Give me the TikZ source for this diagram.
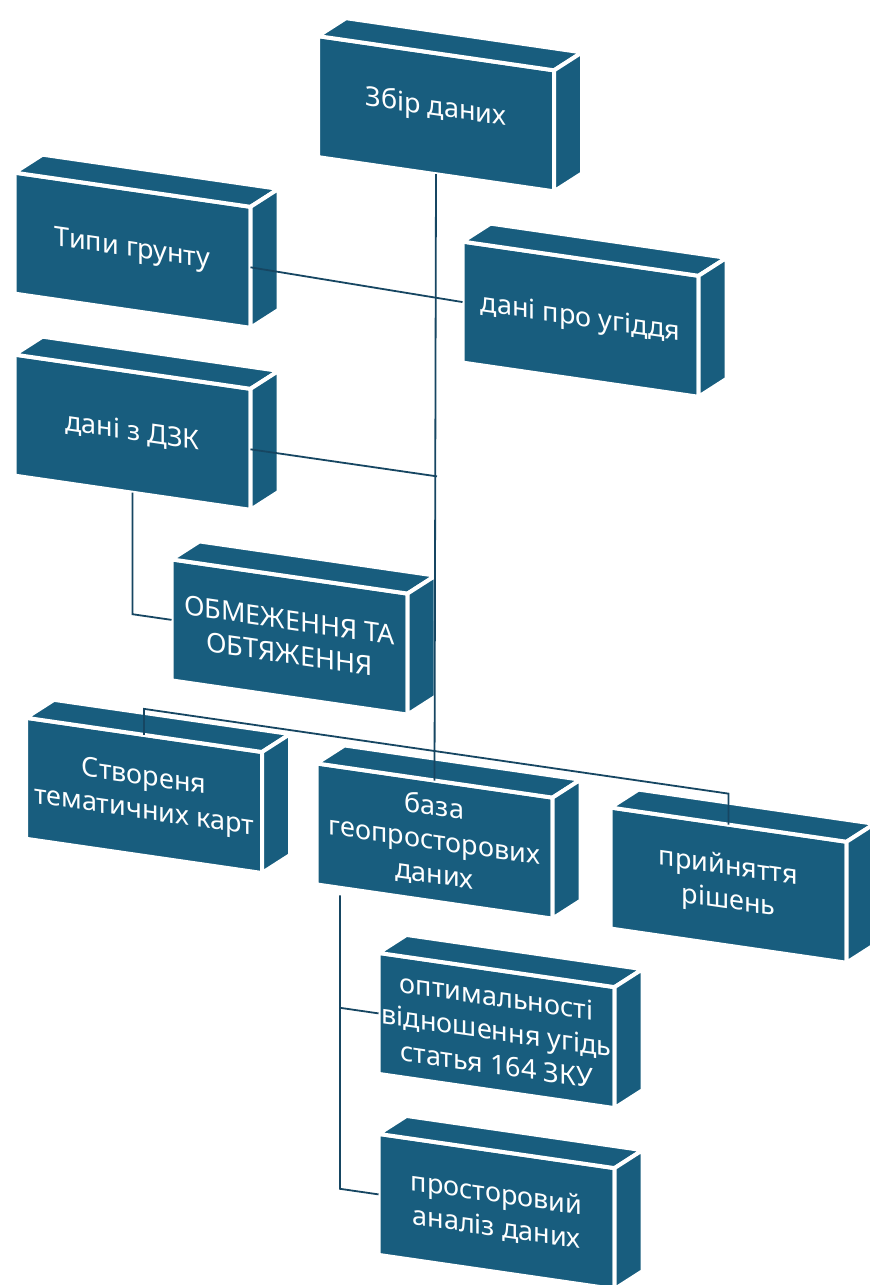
\documentclass[tikz,border=0pt]{standalone}
\usepackage{fontspec}
\setmainfont{Noto Sans}
\definecolor{boxblue}{RGB}{24,93,126}
\definecolor{linkblue}{RGB}{22,70,98}
\tikzset{
  face/.style={fill=boxblue, draw=white, line width=4pt, line join=round},
  front/.style={face, rectangle, minimum width=236pt, minimum height=121pt,
    inner sep=0pt, outer sep=0pt, text=white, align=center,
    font=\fontsize{27}{34}\selectfont, transform shape},
  link/.style={draw=linkblue, line width=1.8pt},
}
\newcommand{\cube}[4]{%
  \node[front] (#1) at (#2,#3) {#4};
  \path[face] (#1.north west) -- ++(28,22) -- ++(236,0) -- (#1.north east) -- cycle;
  \path[face] (#1.north east) -- ++(28,22) -- ++(0,-121) -- (#1.south east) -- cycle;
}
\begin{document}
\begin{tikzpicture}
\useasboundingbox[fill=white] (0,0) rectangle (870pt,-1285pt);
\begin{scope}[yslant=-0.145, x=1pt, y=1pt]
  \cube{b1}{436}{-50.5}{\raisebox{17pt}{Збір даних}}
  \cube{b2}{132.5}{-231}{Типи грунту}
  \cube{b3}{580.5}{-235}{дані про угіддя}
  \cube{b4}{132.5}{-413}{дані з ДЗК}
  \cube{b5}{289.5}{-595}{ОБМЕЖЕННЯ ТА\\ОБТЯЖЕННЯ}
  \cube{b6}{144}{-774.5}{Створеня\\тематичних карт}
  \cube{b7}{434.5}{-778}{база\\геопросторових\\даних}
  \cube{b8}{728.5}{-779.5}{прийняття\\рішень}
  \cube{b9}{496.5}{-958.5}{оптимальності\\відношення угідь\\статья 164 ЗКУ}
  \cube{b10}{496.5}{-1139.5}{просторовий\\аналіз даних}

  \coordinate (jD) at (437,-413);
  \coordinate (jO) at (132.5,-595);
  \coordinate (busL) at (144,-688);
  \coordinate (busR) at (728.5,-688);
  \coordinate (kTop) at (340,-846);
  \coordinate (k9) at (340,-958.5);
  \coordinate (k10) at (340,-1139.5);

  \draw[link] (b1.south) -- (b7.north);
  \draw[link] (b2.east) -- (b3.west);
  \draw[link] (b4.east) -- (jD);
  \draw[link] (b4.south) -- (jO) -- (b5.west);
  \draw[link] (b6.north) -- (busL) -- (busR) -- (b8.north);
  \draw[link] (kTop) -- (k10) -- (b10.west);
  \draw[link] (k9) -- (b9.west);
\end{scope}
\end{tikzpicture}
\end{document}
